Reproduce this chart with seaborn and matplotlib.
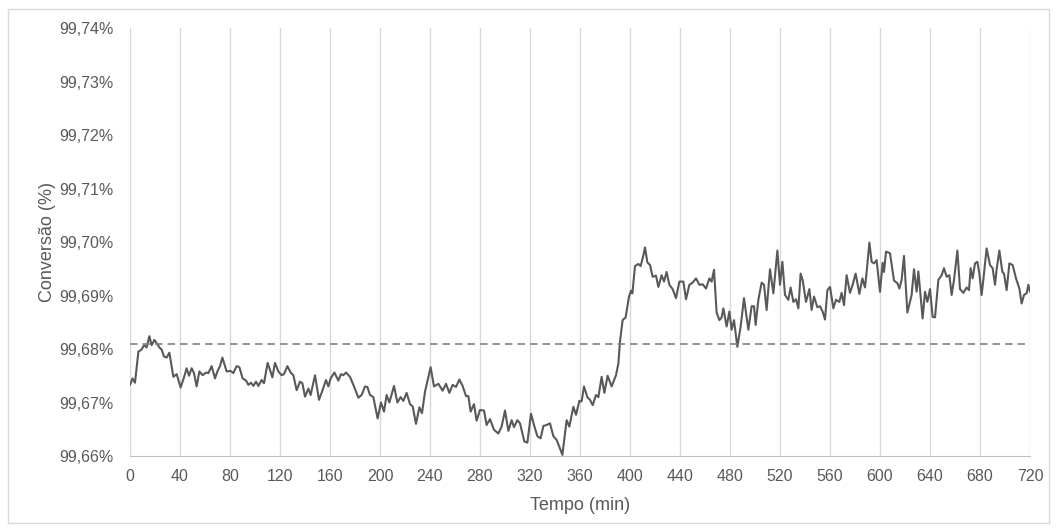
import matplotlib
matplotlib.use("Agg")
import matplotlib.pyplot as plt
from matplotlib.patches import Rectangle
from matplotlib.ticker import FuncFormatter, MultipleLocator
import pandas as pd
import seaborn as sns

# tempo (min) e conversão (%)
tempo = [
    0, 2, 4, 6.7, 9.3, 11.2, 13.3, 15.5,
    17.3, 19.5, 21.3, 23.5, 25.3, 27.2, 29.3, 31.5,
    34.7, 37.3, 40.5, 43.2, 45.3, 47.2, 49.3, 51.2,
    53.3, 55.5, 58.1, 60.8, 62.7, 65.3, 68, 69.9,
    72, 73.9, 77.3, 80.5, 82.7, 85.3, 87.5, 90.1,
    92.8, 94.7, 96.8, 98.7, 100.8, 102.7, 105.3, 107.2,
    110.1, 112, 113.9, 116,
    118.7, 121.3, 123.2, 125.9, 128.5, 130.7, 133.3, 136,
    137.9, 140, 142.7, 144.5, 148, 151.2, 153.9, 156.8,
    158.7, 160.5, 163.5, 166.7, 168.8, 170.7, 172.8, 176,
    179.2, 182.7, 185.3, 188, 189.9, 192, 194.7, 198.1,
    200.8, 203.2, 205.3, 207.5, 211.2, 213.9, 216.5, 218.7,
    221.3, 224, 226.1, 228.8, 231.5, 233.6, 236,
    240.5, 243.2, 246.7, 250.1, 252.8, 255.5, 258.1, 260.8,
    263.5, 266.1, 268.8, 270.7, 272.5, 275.2, 277.3, 280,
    283.2, 285.3, 288, 291.2, 294.7, 297.3, 300, 302.7,
    305.3, 307.2, 309.9, 312, 315.5, 317.9, 320.8, 323.2,
    325.9, 328.5, 330.7, 333.3, 336, 338.7, 341.3, 344,
    345.9, 349.3, 351.5,
    354.7, 356.8, 359.5, 361.3, 363.2, 365.9, 368, 370.1,
    372.8, 374.7, 377.3, 379.5, 382.1, 385.3, 388.8, 390.7,
    392, 394.1, 396.5, 399.2, 400.8, 401.9, 404, 406.7,
    408.5, 410.7, 412, 413.9, 416, 418.1, 420.8, 422.7,
    425.3, 427.2, 429.3, 431.5, 434.1, 436.8, 439.5, 442.7,
    444.8, 447.5, 450.1, 452.8, 455.5, 458.1, 460.8, 463.5,
    465.3, 467.2, 469.3, 471.5, 473.3, 474.7, 477.3,
    479.5, 481.3, 483.2, 485.9, 488.5, 491.2, 494.7, 497.3,
    499.2, 500.5, 502.7, 505.3, 507.2, 509.3, 512, 514.7,
    517.9, 520, 521.9, 524, 526.7, 528.5, 530.7, 532.8,
    534.7, 536.5, 538.1, 540.8, 543.5, 545.3, 547.2, 549.9,
    552, 554.1, 556, 557.9, 560, 562.7, 564.8, 567.5,
    569.3, 571.2, 573.3, 576, 578.1, 580.5, 583.5, 585.9,
    588, 589.3, 591.5,
    593.3, 595.2, 597.3, 600, 602.1, 603.2, 604.8, 608,
    611.2, 613.9, 615.5, 617.3, 619.2, 621.9, 625.3, 627.2,
    629.3, 630.7, 634.1, 636, 637.9, 640, 642.1, 644,
    646.7, 649.3, 651.2, 653.3, 655.5, 657.3, 659.2, 661.9,
    664, 666.7, 669.3, 671.2, 672.5, 674.1, 676, 677.9,
    679.5, 681.3, 683.2, 685.3, 688, 690.1, 692, 693.3,
    695.5, 697.9, 699.2, 701.3, 703.5, 706.1, 708.8, 711.5,
    713.3, 715.2, 717.3, 718.7, 720,
]

conversao = [
    99.6733, 99.6745, 99.6737, 99.6795, 99.6799, 99.6807, 99.6803, 99.6824,
    99.6807, 99.6817, 99.6811, 99.6803, 99.6799, 99.6786, 99.6784, 99.6793,
    99.6748, 99.6753, 99.6728, 99.6747, 99.6764, 99.6750, 99.6764, 99.6755,
    99.6730, 99.6758, 99.6751, 99.6756, 99.6755, 99.6768, 99.6745, 99.6758,
    99.6768, 99.6784, 99.6758, 99.6759, 99.6755, 99.6768, 99.6766, 99.6745,
    99.6741, 99.6733, 99.6737, 99.6731, 99.6739, 99.6731, 99.6742, 99.6736,
    99.6774, 99.6761, 99.6747, 99.6774,
    99.6758, 99.6751, 99.6753, 99.6768, 99.6756, 99.6751, 99.6723, 99.6739,
    99.6736, 99.6711, 99.6726, 99.6714, 99.6751, 99.6705, 99.6722, 99.6742,
    99.6730, 99.6745, 99.6756, 99.6741, 99.6753, 99.6751, 99.6756, 99.6748,
    99.6730, 99.6709, 99.6714, 99.6730, 99.6729, 99.6714, 99.6710, 99.6670,
    99.6700, 99.6683, 99.6714, 99.6700, 99.6731, 99.6700, 99.6710, 99.6703,
    99.6718, 99.6697, 99.6693, 99.6660, 99.6691, 99.6680, 99.6720,
    99.6766, 99.6730, 99.6735, 99.6722, 99.6735, 99.6718, 99.6733, 99.6729,
    99.6743, 99.6731, 99.6712, 99.6712, 99.6683, 99.6697, 99.6666, 99.6686,
    99.6685, 99.6658, 99.6669, 99.6649, 99.6642, 99.6655, 99.6685, 99.6647,
    99.6667, 99.6654, 99.6667, 99.6661, 99.6627, 99.6625, 99.6679, 99.6658,
    99.6637, 99.6633, 99.6656, 99.6658, 99.6661, 99.6637, 99.6630, 99.6614,
    99.6602, 99.6667, 99.6655,
    99.6692, 99.6677, 99.6703, 99.6702, 99.6730, 99.6710, 99.6705, 99.6695,
    99.6714, 99.6710, 99.6748, 99.6718, 99.6750, 99.6730, 99.6751, 99.6773,
    99.6814, 99.6854, 99.6859, 99.6898, 99.6909, 99.6904, 99.6955, 99.6959,
    99.6955, 99.6975, 99.6990, 99.6962, 99.6957, 99.6935, 99.6937, 99.6916,
    99.6938, 99.6926, 99.6944, 99.6920, 99.6912, 99.6895, 99.6926, 99.6926,
    99.6893, 99.6920, 99.6924, 99.6932, 99.6920, 99.6921, 99.6913, 99.6932,
    99.6926, 99.6948, 99.6868, 99.6854, 99.6859, 99.6876, 99.6842,
    99.6870, 99.6836, 99.6854, 99.6804, 99.6842, 99.6895, 99.6836, 99.6880,
    99.6880, 99.6845, 99.6892, 99.6924, 99.6920, 99.6873, 99.6949, 99.6904,
    99.6984, 99.6920, 99.6963, 99.6901, 99.6892, 99.6915, 99.6888, 99.6893,
    99.6876, 99.6941, 99.6929, 99.6888, 99.6912, 99.6873, 99.6898, 99.6878,
    99.6880, 99.6870, 99.6855, 99.6910, 99.6916, 99.6876, 99.6892, 99.6888,
    99.6905, 99.6882, 99.6938, 99.6905, 99.6920, 99.6941, 99.6903, 99.6932,
    99.6915, 99.6944, 99.6999,
    99.6963, 99.6960, 99.6966, 99.6907, 99.6961, 99.6944, 99.6982, 99.6979,
    99.6928, 99.6923, 99.6913, 99.6929, 99.6974, 99.6868, 99.6901, 99.6949,
    99.6907, 99.6945, 99.6857, 99.6907, 99.6888, 99.6912, 99.6860, 99.6859,
    99.6929, 99.6938, 99.6951, 99.6935, 99.6938, 99.6901, 99.6929, 99.6984,
    99.6912, 99.6905, 99.6915, 99.6910, 99.6951, 99.6932, 99.6960, 99.6963,
    99.6941, 99.6901, 99.6941, 99.6988, 99.6957, 99.6951, 99.6920, 99.6949,
    99.6984, 99.6944, 99.6941, 99.6910, 99.6960, 99.6957, 99.6932, 99.6913,
    99.6885, 99.6901, 99.6904, 99.6920, 99.6907,
]

referencia = 99.6809  # linha tracejada

assert len(tempo) == len(conversao)
df = pd.DataFrame({"tempo": tempo, "conversao": conversao})

sns.set_style("white")
plt.rcParams["font.family"] = ["Liberation Sans", "DejaVu Sans"]

cinza = "#595959"
fig = plt.figure(figsize=(10.57, 5.32), dpi=100)
ax = fig.add_axes([130 / 1057, 1 - 456 / 532, 900 / 1057, 428 / 532])

sns.lineplot(data=df, x="tempo", y="conversao", ax=ax, color=cinza, linewidth=1.5)
ax.axhline(referencia, color="#808080", linewidth=1.2, linestyle=(0, (4.5, 3)))

ax.set_xlim(0, 720)
ax.set_ylim(99.66, 99.74)
ax.xaxis.set_major_locator(MultipleLocator(40))
ax.yaxis.set_major_locator(MultipleLocator(0.01))
ax.yaxis.set_major_formatter(FuncFormatter(lambda v, _: f"{v:.2f}%".replace(".", ",")))
ax.grid(axis="x", color="#d9d9d9", linewidth=1)
ax.grid(axis="y", visible=False)
ax.set_axisbelow(True)
for s in ["top", "right", "left"]:
    ax.spines[s].set_visible(False)
ax.spines["bottom"].set_color("#bfbfbf")
ax.tick_params(axis="both", length=0, labelsize=11.5, labelcolor=cinza)
ax.tick_params(axis="y", pad=12)
ax.tick_params(axis="x", pad=9.5)

ax.set_xlabel("Tempo (min)", fontsize=13, color=cinza, labelpad=9)
ax.set_ylabel("Conversão (%)", fontsize=13, color=cinza, labelpad=2)

fig.patches.append(Rectangle((8 / 1057, 9 / 532), 1041 / 1057, 514 / 532,
                             transform=fig.transFigure, fill=False,
                             edgecolor="#d9d9d9", linewidth=1))

fig.savefig("out.png", dpi=100)
